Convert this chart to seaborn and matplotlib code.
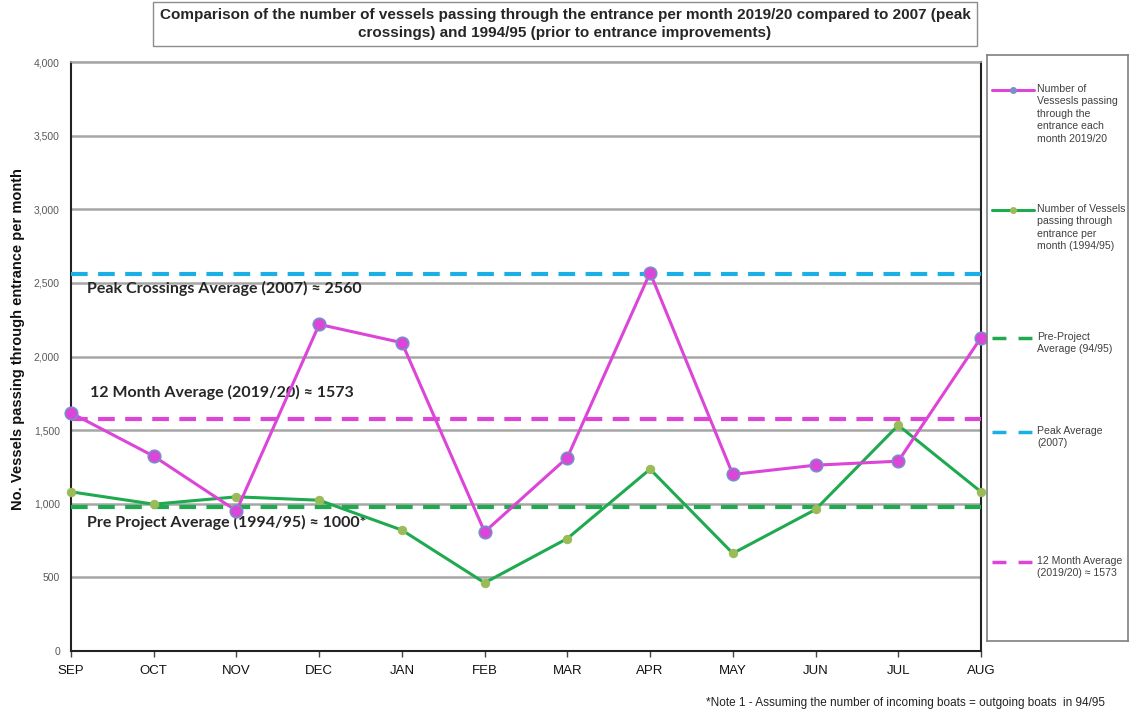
"""
Vessels passing through the entrance per month: 2019/20 vs 1994/95 with averages
"""
import matplotlib
matplotlib.use("Agg")
import matplotlib.pyplot as plt
import numpy as np
import pandas as pd
import seaborn as sns
from matplotlib.ticker import FuncFormatter, MultipleLocator

# data
months = ["SEP", "OCT", "NOV", "DEC", "JAN", "FEB", "MAR", "APR", "MAY", "JUN", "JUL", "AUG"]
vessels_2019 = [1617, 1323, 952, 2218, 2094, 809, 1314, 2569, 1199, 1262, 1289, 2128]
vessels_1994 = [1081, 997, 1047, 1024, 821, 463, 764, 1235, 663, 961, 1533, 1081]
peak_avg_2007 = 2560
month_avg_2019 = 1573
pre_project_avg = 975

MAGENTA = "#dd44d8"
GREEN = "#1faa4f"
OLIVE = "#9bbb59"
CYAN = "#1ab0e6"

sns.set_theme(style="white")
plt.rcParams["font.family"] = ["Liberation Sans", "DejaVu Sans"]

df = pd.DataFrame({"month": months, "y2019": vessels_2019, "y1994": vessels_1994})

fig = plt.figure(figsize=(11.3, 7.2), dpi=100)
ax = fig.add_axes([71 / 1130, 1 - 651 / 720, 910 / 1130, 589 / 720])

# reference lines
ax.axhline(peak_avg_2007, color=CYAN, lw=3, ls=(0, (4, 2.5)), zorder=3)
ax.axhline(month_avg_2019, color=MAGENTA, lw=3, ls=(0, (4, 2.5)), zorder=3)
ax.axhline(pre_project_avg, color=GREEN, lw=3, ls=(0, (4, 2.5)), zorder=3)

sns.lineplot(data=df, x="month", y="y1994", sort=False, ax=ax, color=GREEN, lw=2.2,
             marker="o", markersize=6, markerfacecolor=OLIVE, markeredgecolor=OLIVE,
             zorder=4, errorbar=None, clip_on=False)
sns.lineplot(data=df, x="month", y="y2019", sort=False, ax=ax, color=MAGENTA, lw=2.2,
             marker="o", markersize=9, markerfacecolor=MAGENTA, markeredgecolor="#7a8fc8",
             markeredgewidth=1.2, zorder=5, errorbar=None, clip_on=False)

ax.set_xlim(0, len(months) - 1)
ax.set_ylim(0, 4000)
ax.yaxis.set_major_locator(MultipleLocator(500))
ax.yaxis.set_major_formatter(FuncFormatter(lambda v, p: f"{int(v):,}"))
ax.grid(axis="y", color="#a6a6a6", lw=1.8)
ax.set_axisbelow(True)
for s in ["left", "bottom", "right"]:
    ax.spines[s].set_color("#222222")
    ax.spines[s].set_linewidth(1.5)
ax.spines["top"].set_color("#a6a6a6")
ax.tick_params(axis="y", labelsize=7.5, labelcolor="#595959", length=0, pad=8)
ax.tick_params(axis="x", labelsize=9.5, labelcolor="#111111", length=4, width=1,
               color="#444444", direction="out", bottom=True, pad=6)
ax.set_xlabel("")
ax.set_ylabel("No. Vessels passing through entrance per month", fontsize=10.5,
              fontweight="bold", color="#111111")
ax.yaxis.set_label_coords(-0.05, 0.53)

# annotation labels
note_kw = dict(fontsize=11.5, fontweight="bold", color="#262626",
               family=["Lato", "DejaVu Sans"], transform=ax.get_yaxis_transform())
ax.text(0.018, 2465, "Peak Crossings Average (2007) \u2248 2560", va="center", **note_kw)
ax.text(0.021, 1755, "12 Month Average (2019/20) \u2248 1573", va="center", **note_kw)
ax.text(0.018, 870, "Pre Project Average (1994/95) \u2248 1000*", va="center", **note_kw)

# title box
fig.text(0.5, 1 - 24 / 720,
         "Comparison of the number of vessels passing through the entrance per month 2019/20 compared to 2007 (peak\ncrossings) and 1994/95 (prior to entrance improvements)",
         ha="center", va="center", fontsize=11, fontweight="bold",
         linespacing=1.3,
         bbox=dict(boxstyle="square,pad=0.4", fc="white", ec="#8c8c8c", lw=1))

# legend panel
lg = fig.add_axes([987 / 1130, 1 - 641 / 720, 141 / 1130, 586 / 720])
lg.set_xlim(0, 141)
lg.set_ylim(586, 0)
lg.set_xticks([])
lg.set_yticks([])
for s in lg.spines.values():
    s.set_color("#7f7f7f")
    s.set_linewidth(1.2)
entries = [
    (35, "Number of\nVessesls passing\nthrough the\nentrance each\nmonth 2019/20", MAGENTA, "-", "#7a8fc8"),
    (155, "Number of Vessels\npassing through\nentrance per\nmonth (1994/95)", GREEN, "-", OLIVE),
    (283, "Pre-Project\nAverage (94/95)", GREEN, "--", None),
    (377, "Peak Average\n(2007)", CYAN, "--", None),
    (507, "12 Month Average\n(2019/20) \u2248 1573", MAGENTA, "--", None),
]
for y, label, col, ls, mcol in entries:
    if ls == "-":
        lg.plot([5, 47], [y, y], color=col, lw=2.2)
        lg.plot([26], [y], marker="o", ms=4, color=mcol)
    else:
        lg.plot([5, 47], [y, y], color=col, lw=2.5, ls=(0, (4, 3.5)))
    lg.text(50, y - 6, label, fontsize=7.6, color="#404040", va="top", linespacing=1.3)

fig.text(1105 / 1130, 1 - 703 / 720,
         "*Note 1 - Assuming the number of incoming boats = outgoing boats  in 94/95",
         ha="right", va="center", fontsize=8.5, color="#222222")

fig.savefig("out.png", dpi=100)
